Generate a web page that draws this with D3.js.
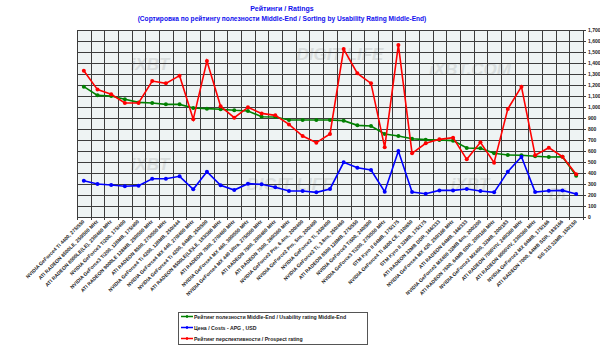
<!DOCTYPE html>
<html>
<head>
<meta charset="utf-8">
<script src="https://cdn.jsdelivr.net/npm/d3@7"></script>
<style>
  body { margin: 0; background: #fff; }
  svg { display: block; font-family: "Liberation Sans", Arial, sans-serif; }
</style>
</head>
<body>
<svg id="chart" width="600" height="351"></svg>
<script>
// categories (video cards), sorted by usability rating
const cards = [
  "NVIDIA GeForce4 Ti 4400, 275/550",
  "ATI RADEON 8500LE, 250/500 MHz",
  "ATI RADEON 8500LE(LE), 230/460 MHz",
  "NVIDIA GeForce3 Ti200, 175/400",
  "NVIDIA GeForce3 Ti200, 128MB, 175/400",
  "ATI RADEON 9000LE 128MB, 250/500 MHz",
  "ATI RADEON 8500, 275/550 MHz",
  "NVIDIA GeForce4 Ti 4200, 128MB, 250/444",
  "NVIDIA GeForce4 MX 440, 270/400 MHz",
  "NVIDIA GeForce4 Ti 4200, 64MB, 250/500",
  "ATI RADEON 8500LE(LE)LE, 183/366 MHz",
  "ATI RADEON 7500, 270/460 MHz",
  "NVIDIA GeForce4 MX 460, 300/550 MHz",
  "NVIDIA GeForce4 MX 440 Ultra, 275/500 MHz",
  "ATI RADEON 7500, 290/460 MHz",
  "ATI RADEON 7500, 260/360 MHz",
  "NVIDIA GeForce2 Pro, 6.4ns, 200/400",
  "NVIDIA GeForce2 Pro, 5ns, 200/400",
  "NVIDIA GeForce2 Ti, 250/400",
  "NVIDIA GeForce2 Ti, 3.8ns, 250/460",
  "ATI RADEON 8500 128MB, 275/550",
  "NVIDIA GeForce3 Ti500, 240/500",
  "NVIDIA GeForce3 Ti200, 275/550 MHz",
  "STM Kyro II 64MB, 175/175",
  "NVIDIA GeForce4 Ti 4600 CE, 310/650",
  "STM Kyro II 32MB, 175/175",
  "ATI RADEON 32MB DDR, 166/333",
  "NVIDIA GeForce4 MX 420, 250/166 MHz",
  "ATI RADEON 64MB, 166/333",
  "NVIDIA GeForce2 MX400 32MB 6ns, 200/200",
  "ATI RADEON 7500, 64MB SDR, 200/166 MHz",
  "NVIDIA GeForce2 MX400, 32MB, 200/183",
  "ATI RADEON 7500VIV, 240/360 MHz",
  "ATI RADEON 9000VIV, 230/360 MHz",
  "NVIDIA GeForce2 MX 64MB, 175/166",
  "ATI RADEON 7000, 64MB SDR, 183/166",
  "SiS 315 32MB, 150/150"
];

const usability = [1185, 1106, 1100, 1070, 1042, 1036, 1024, 1024, 991, 985,
  979, 970, 964, 912, 909, 882, 882, 882, 882, 876,
  833, 827, 755, 736, 712, 703, 700, 694, 627, 624,
  579, 564, 561, 552, 545, 548, 375];

const costs = [330, 300, 291, 279, 285, 348, 348, 370, 252, 412,
  288, 245, 303, 297, 270, 236, 236, 224, 255, 497,
  448, 427, 230, 600, 227, 212, 242, 242, 255, 236,
  224, 412, 548, 227, 239, 242, 209];

const prospect = [1330, 1158, 1115, 1036, 1036, 1236, 1215, 1285, 888, 1418,
  1006, 903, 997, 942, 924, 842, 736, 676, 755, 1527,
  1306, 1215, 633, 1564, 579, 670, 706, 721, 524, 679,
  494, 982, 1185, 561, 630, 548, 388];

const yTicks = d3.range(0, 1800, 100);

const titleText = "Рейтинги / Ratings";
const subtitleText = "(Сортировка по рейтингу полезности Middle-End / Sorting by Usability Rating Middle-End)";

const series = [
  { name: "Рейтинг полезности Middle-End / Usability rating Middle-End", values: usability, color: "#008000" },
  { name: "Цена / Costs - APG , USD", values: costs, color: "#0000ff" },
  { name: "Рейтинг перспективности / Prospect rating", values: prospect, color: "#ff0000" }
];

const svg = d3.select("#chart");
const plot = { left: 77, right: 583, top: 30, bottom: 217 };

const x = d3.scaleBand()
  .domain(cards)
  .range([plot.left, plot.right]);

const y = d3.scaleLinear()
  .domain([0, 1700])
  .range([plot.bottom, plot.top]);

// titles
svg.append("text")
  .attr("x", 282).attr("y", 11)
  .attr("text-anchor", "middle")
  .attr("font-size", "7px").attr("font-weight", "bold")
  .attr("fill", "#1010ee")
  .text(titleText);

svg.append("text")
  .attr("x", 282).attr("y", 21)
  .attr("text-anchor", "middle")
  .attr("font-size", "6.6px").attr("font-weight", "bold")
  .attr("fill", "#1010ee")
  .text(subtitleText);

// plot background
svg.append("rect")
  .attr("x", plot.left).attr("y", plot.top)
  .attr("width", plot.right - plot.left)
  .attr("height", plot.bottom - plot.top)
  .attr("fill", "#eef3f3");

// faint watermarks
const marks = [[150, 70, "iXBT"], [340, 60, "DIGIT LIFE"], [470, 75, "iXBT.COM"],
  [150, 170, "iXBT"], [290, 190, "DIGIT LIFE"], [470, 190, "iXBT"], [560, 200, "DL"]];
svg.append("g")
  .selectAll("text")
  .data(marks)
  .enter()
  .append("text")
  .attr("x", (d) => d[0]).attr("y", (d) => d[1])
  .attr("text-anchor", "middle")
  .attr("font-size", "17px").attr("font-weight", "bold").attr("font-style", "italic")
  .attr("fill", "#d9dede")
  .text((d) => d[2]);

// grid
const grid = svg.append("g").attr("stroke", "#3c3c3c").attr("stroke-width", 1)
  .attr("shape-rendering", "crispEdges");

grid.selectAll(".hg")
  .data(yTicks)
  .enter()
  .append("line")
  .attr("x1", plot.left).attr("x2", plot.right)
  .attr("y1", (d) => Math.round(y(d)) + 0.5).attr("y2", (d) => Math.round(y(d)) + 0.5);

const edges = cards.map((c) => x(c)).concat([plot.right]);
grid.selectAll(".vg")
  .data(edges)
  .enter()
  .append("line")
  .attr("x1", (d) => Math.round(d) + 0.5).attr("x2", (d) => Math.round(d) + 0.5)
  .attr("y1", plot.top).attr("y2", plot.bottom + 3);

// right axis
const yAxis = svg.append("g")
  .attr("transform", `translate(${plot.right},0)`)
  .call(d3.axisRight(y).tickValues(yTicks).tickSize(3).tickPadding(2));
yAxis.select(".domain").attr("stroke", "#3c3c3c");
yAxis.selectAll("line").attr("stroke", "#3c3c3c");
yAxis.selectAll("text")
  .attr("font-size", "5px").attr("font-weight", "bold")
  .attr("font-family", "'Liberation Sans', Arial, sans-serif")
  .attr("fill", "#222");

// category labels
svg.append("g")
  .selectAll("text")
  .data(cards)
  .enter()
  .append("text")
  .attr("transform", (d) => `translate(${x(d) + x.bandwidth() / 2 + 1},${plot.bottom + 5}) rotate(-45)`)
  .attr("text-anchor", "end")
  .attr("font-size", "5px").attr("font-weight", "bold")
  .attr("fill", "#222")
  .text((d) => d);

// lines
const cx = (i) => x(cards[i]) + x.bandwidth() / 2;
const line = d3.line()
  .x((d, i) => cx(i))
  .y((d) => y(d));

series.forEach((s) => {
  svg.append("path")
    .datum(s.values)
    .attr("fill", "none")
    .attr("stroke", s.color)
    .attr("stroke-width", 1.6)
    .attr("d", line);

  svg.append("g")
    .selectAll("circle")
    .data(s.values)
    .enter()
    .append("circle")
    .attr("cx", (d, i) => cx(i))
    .attr("cy", (d) => y(d))
    .attr("r", 2)
    .attr("fill", s.color);
});

// legend
const legend = svg.append("g").attr("transform", "translate(178,312)");
legend.append("rect")
  .attr("x", 0.5).attr("y", 0.5)
  .attr("width", 189).attr("height", 32)
  .attr("fill", "#fff")
  .attr("stroke", "#555").attr("stroke-width", 1);

series.forEach((s, i) => {
  const ly = 4.5 + i * 11;
  legend.append("line")
    .attr("x1", 3).attr("x2", 15)
    .attr("y1", ly).attr("y2", ly)
    .attr("stroke", s.color).attr("stroke-width", 1.5);
  legend.append("line")
    .attr("x1", 9).attr("x2", 9)
    .attr("y1", ly - 1.5).attr("y2", ly + 1.5)
    .attr("stroke", s.color).attr("stroke-width", 1.5);
  legend.append("text")
    .attr("x", 16).attr("y", ly + 2)
    .attr("font-size", "5.2px").attr("font-weight", "bold")
    .attr("fill", "#222")
    .text(s.name);
});
</script>
</body>
</html>
